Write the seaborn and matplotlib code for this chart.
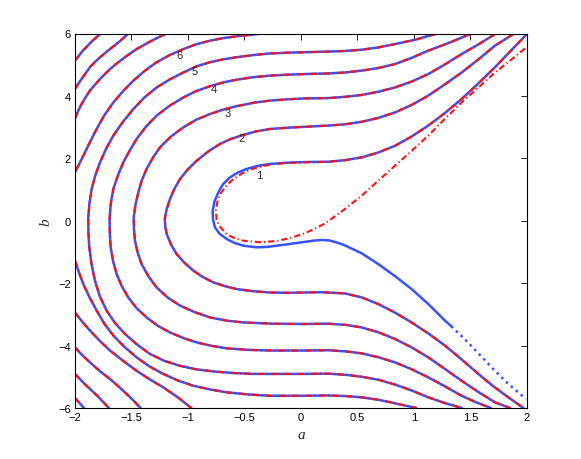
import matplotlib
matplotlib.use("Agg")
import matplotlib.pyplot as plt
import seaborn as sns

sns.set_theme(style="white")
plt.rcParams["font.family"] = ["Liberation Sans", "DejaVu Sans"]

# contour curves, (a, b) pairs
c1_blue = [(1.991, 5.95), (1.85, 5.42), (1.717, 4.92), (1.57, 4.40), (1.422, 3.90),
           (1.27, 3.44), (1.127, 3.05), (0.98, 2.70), (0.832, 2.40), (0.68, 2.18),
           (0.537, 2.03), (0.39, 1.94), (0.242, 1.89), (0.036, 1.88), (-0.12, 1.86),
           (-0.274, 1.82), (-0.38, 1.76), (-0.481, 1.66), (-0.56, 1.54), (-0.628, 1.39),
           (-0.69, 1.17), (-0.731, 0.91), (-0.765, 0.62), (-0.781, 0.32), (-0.779, 0.05),
           (-0.761, -0.21), (-0.72, -0.42), (-0.657, -0.586), (-0.59, -0.71), (-0.51, -0.80),
           (-0.392, -0.853), (-0.30, -0.84), (-0.215, -0.80), (-0.12, -0.755), (-0.03, -0.71),
           (0.05, -0.67), (0.12, -0.635), (0.183, -0.618), (0.25, -0.63), (0.32, -0.70),
           (0.389, -0.79), (0.54, -1.05), (0.684, -1.39), (0.83, -1.77), (0.979, -2.19),
           (1.13, -2.68), (1.274, -3.20), (1.33, -3.38)]
c1_blue_tail = [(1.33, -3.38), (1.45, -3.80), (1.57, -4.25), (1.70, -4.75), (1.835, -5.23),
                (1.991, -5.71)]
c1_red = [(1.982, 5.52), (1.85, 5.13), (1.717, 4.75), (1.57, 4.27), (1.422, 3.79),
          (1.27, 3.25), (1.127, 2.73), (0.98, 2.24), (0.832, 1.76), (0.68, 1.27),
          (0.537, 0.80), (0.38, 0.35), (0.212, -0.09), (0.12, -0.26), (0.036, -0.40),
          (-0.09, -0.55), (-0.215, -0.65), (-0.363, -0.69), (-0.51, -0.64), (-0.60, -0.54),
          (-0.657, -0.43), (-0.71, -0.22), (-0.746, 0.0), (-0.752, 0.32), (-0.74, 0.60),
          (-0.71, 0.88), (-0.66, 1.12), (-0.60, 1.33), (-0.52, 1.52), (-0.43, 1.66),
          (-0.33, 1.76), (-0.2, 1.83), (-0.05, 1.86), (0.036, 1.87), (0.242, 1.89),
          (0.39, 1.94), (0.537, 2.03), (0.68, 2.18), (0.832, 2.40), (0.98, 2.70),
          (1.127, 3.05), (1.27, 3.44), (1.422, 3.90), (1.57, 4.40), (1.717, 4.92),
          (1.85, 5.42), (1.991, 5.95)]

c2 = [(1.879, 5.98), (1.80, 5.80), (1.717, 5.61), (1.57, 5.17), (1.422, 4.75), (1.27, 4.36),
      (1.127, 4.01), (0.98, 3.71), (0.832, 3.47), (0.68, 3.29), (0.537, 3.17), (0.39, 3.09),
      (0.242, 3.05), (0.036, 3.01), (-0.12, 2.98), (-0.274, 2.94), (-0.40, 2.86), (-0.51, 2.75),
      (-0.62, 2.62), (-0.717, 2.46), (-0.82, 2.22), (-0.923, 1.92), (-1.0, 1.65), (-1.07, 1.34),
      (-1.12, 1.02), (-1.159, 0.695), (-1.19, 0.35), (-1.205, 0.05), (-1.20, -0.2),
      (-1.188, -0.426), (-1.15, -0.76), (-1.10, -1.07), (-1.03, -1.35), (-0.952, -1.60),
      (-0.87, -1.80), (-0.776, -1.975), (-0.67, -2.10), (-0.569, -2.19), (-0.42, -2.26),
      (-0.274, -2.30), (-0.12, -2.31), (0.036, -2.30), (0.183, -2.29), (0.389, -2.33),
      (0.54, -2.46), (0.684, -2.67), (0.83, -2.94), (0.979, -3.26), (1.13, -3.62),
      (1.274, -4.00), (1.42, -4.44), (1.57, -4.91), (1.70, -5.30), (1.835, -5.66),
      (1.968, -6.0)]
c3 = [(1.717, 5.98), (1.57, 5.65), (1.422, 5.34), (1.27, 5.00), (1.127, 4.70), (0.98, 4.46),
      (0.832, 4.27), (0.68, 4.13), (0.537, 4.03), (0.39, 3.97), (0.242, 3.93), (0.036, 3.92),
      (-0.12, 3.89), (-0.274, 3.85), (-0.42, 3.78), (-0.569, 3.67), (-0.69, 3.56),
      (-0.805, 3.42), (-0.93, 3.23), (-1.041, 2.99), (-1.15, 2.70), (-1.248, 2.35),
      (-1.31, 2.02), (-1.366, 1.66), (-1.41, 1.28), (-1.439, 0.91), (-1.465, 0.5),
      (-1.48, 0.1), (-1.478, -0.25), (-1.469, -0.64), (-1.445, -1.02), (-1.41, -1.39),
      (-1.35, -1.78), (-1.277, -2.14), (-1.18, -2.46), (-1.07, -2.72), (-0.94, -2.93),
      (-0.805, -3.10), (-0.66, -3.20), (-0.51, -3.26), (-0.25, -3.30), (0.036, -3.31),
      (0.242, -3.30), (0.40, -3.34), (0.537, -3.42), (0.69, -3.58), (0.832, -3.79),
      (0.98, -4.06), (1.127, -4.38), (1.27, -4.74), (1.422, -5.13), (1.57, -5.49),
      (1.717, -5.82), (1.85, -6.0)]
c4 = [(1.496, 5.98), (1.31, 5.70), (1.127, 5.45), (0.98, 5.22), (0.832, 5.02), (0.68, 4.89),
      (0.537, 4.81), (0.39, 4.75), (0.242, 4.72), (0.036, 4.70), (-0.12, 4.68), (-0.274, 4.65),
      (-0.42, 4.60), (-0.569, 4.52), (-0.69, 4.43), (-0.805, 4.31), (-0.93, 4.15),
      (-1.041, 3.95), (-1.16, 3.69), (-1.277, 3.37), (-1.37, 3.02), (-1.454, 2.62),
      (-1.515, 2.25), (-1.572, 1.87), (-1.62, 1.45), (-1.66, 1.02), (-1.683, 0.55),
      (-1.693, 0.1), (-1.692, -0.38), (-1.684, -0.85), (-1.662, -1.30), (-1.631, -1.71),
      (-1.585, -2.10), (-1.528, -2.46), (-1.455, -2.80), (-1.366, -3.10), (-1.27, -3.36),
      (-1.159, -3.58), (-1.04, -3.76), (-0.923, -3.90), (-0.79, -4.01), (-0.657, -4.09),
      (-0.46, -4.14), (-0.274, -4.16), (0.036, -4.16), (0.242, -4.15), (0.40, -4.19),
      (0.537, -4.25), (0.69, -4.38), (0.832, -4.54), (0.98, -4.76), (1.127, -5.02),
      (1.27, -5.30), (1.422, -5.61), (1.55, -5.82), (1.68, -6.0)]
c5 = [(1.186, 5.98), (1.01, 5.80), (0.832, 5.66), (0.68, 5.55), (0.537, 5.48), (0.39, 5.44),
      (0.242, 5.42), (0.036, 5.40), (-0.12, 5.385), (-0.274, 5.36), (-0.42, 5.31),
      (-0.569, 5.24), (-0.69, 5.17), (-0.805, 5.08), (-0.93, 4.94), (-1.041, 4.75),
      (-1.16, 4.53), (-1.277, 4.27), (-1.385, 3.95), (-1.483, 3.58), (-1.575, 3.17),
      (-1.66, 2.73), (-1.725, 2.30), (-1.778, 1.87), (-1.82, 1.45), (-1.852, 1.02),
      (-1.872, 0.55), (-1.882, 0.1), (-1.881, -0.38), (-1.873, -0.85), (-1.853, -1.40),
      (-1.823, -1.92), (-1.78, -2.42), (-1.72, -2.88), (-1.645, -3.28), (-1.557, -3.63),
      (-1.45, -3.97), (-1.336, -4.27), (-1.21, -4.49), (-1.07, -4.65), (-0.93, -4.76),
      (-0.776, -4.83), (-0.60, -4.88), (-0.422, -4.91), (0.036, -4.91), (0.242, -4.90),
      (0.40, -4.94), (0.537, -5.00), (0.69, -5.10), (0.832, -5.25), (0.98, -5.44),
      (1.127, -5.66), (1.27, -5.84), (1.422, -6.0)]
c6 = [(-0.35, 6.0), (-0.46, 5.95), (-0.569, 5.91), (-0.69, 5.85), (-0.805, 5.77),
      (-0.93, 5.65), (-1.041, 5.50), (-1.16, 5.31), (-1.277, 5.08), (-1.38, 4.81),
      (-1.483, 4.49), (-1.575, 4.15), (-1.66, 3.79), (-1.74, 3.38), (-1.808, 2.94),
      (-1.87, 2.50), (-1.926, 2.08), (-1.965, 1.80), (-2.0, 1.55)]
c6_low = [(-2.0, -1.28), (-1.965, -1.65), (-1.926, -2.03), (-1.87, -2.46), (-1.808, -2.88),
          (-1.74, -3.30), (-1.66, -3.68), (-1.56, -4.05), (-1.454, -4.38), (-1.34, -4.67),
          (-1.218, -4.91), (-1.09, -5.12), (-0.952, -5.29), (-0.80, -5.41), (-0.657, -5.50),
          (-0.46, -5.57), (-0.274, -5.61), (0.036, -5.61), (0.242, -5.60), (0.40, -5.62),
          (0.537, -5.66), (0.69, -5.74), (0.832, -5.85), (0.93, -5.93), (1.02, -6.0)]
c7 = [(-2.0, 3.28), (-1.971, 3.52), (-1.941, 3.74), (-1.905, 3.96), (-1.867, 4.17),
      (-1.823, 4.36), (-1.778, 4.54), (-1.735, 4.70), (-1.69, 4.86), (-1.63, 5.04),
      (-1.572, 5.20), (-1.515, 5.35), (-1.454, 5.50), (-1.395, 5.62), (-1.336, 5.74),
      (-1.26, 5.88), (-1.19, 6.0)]
c7_low = [(-2.0, -2.94), (-1.935, -3.24), (-1.867, -3.52), (-1.78, -3.85), (-1.69, -4.16),
          (-1.57, -4.50), (-1.454, -4.81), (-1.34, -5.08), (-1.218, -5.34), (-1.09, -5.66),
          (-0.97, -6.0)]
c8 = [(-2.0, 4.22), (-1.965, 4.42), (-1.93, 4.6), (-1.867, 4.92), (-1.825, 5.08),
      (-1.78, 5.23), (-1.735, 5.37), (-1.69, 5.50), (-1.645, 5.63), (-1.6, 5.76),
      (-1.57, 5.86), (-1.54, 5.96), (-1.53, 6.0)]
c8_low = [(-2.0, -4.06), (-1.935, -4.31), (-1.867, -4.54), (-1.78, -4.82), (-1.69, -5.07),
          (-1.615, -5.31), (-1.543, -5.55), (-1.48, -5.77), (-1.42, -6.0)]
c9 = [(-2.0, 5.13), (-1.965, 5.29), (-1.93, 5.45), (-1.89, 5.60), (-1.85, 5.75),
      (-1.81, 5.88), (-1.77, 6.0)]
c9_low = [(-2.0, -4.91), (-1.95, -5.10), (-1.9, -5.28), (-1.85, -5.45), (-1.8, -5.62),
          (-1.75, -5.81), (-1.70, -6.0)]
c10_low = [(-2.0, -5.68), (-1.96, -5.84), (-1.92, -6.0)]

label_text = ["1", "2", "3", "4", "5", "6"]
label_a = [-0.369, -0.525, -0.651, -0.775, -0.943, -1.078]
label_b = [1.45, 2.65, 3.46, 4.21, 4.79, 5.30]

x_ticks = [-2, -1.5, -1, -0.5, 0, 0.5, 1, 1.5, 2]
y_ticks = [-6, -4, -2, 0, 2, 4, 6]

blue = "#3553ff"
red = "#ff1010"
dashdot = (0, (3.0, 1.4, 0.6, 1.4))

fig = plt.figure(figsize=(5.81, 4.60), dpi=100)
ax = fig.add_axes([0.129, 0.111, 0.778, 0.814])


def draw(pts, color, lw, ls="-"):
    xs = [p[0] for p in pts]
    ys = [p[1] for p in pts]
    sns.lineplot(x=xs, y=ys, sort=False, estimator=None, color=color, lw=lw,
                 linestyle=ls, ax=ax)


others = [c2, c3, c4, c5, c6, c6_low, c7, c7_low, c8, c8_low, c9, c9_low, c10_low]
for c in others:
    draw(c, blue, 1.8)
draw(c1_blue, blue, 1.8)
draw(c1_blue_tail, blue, 1.8, (0, (1, 1.6)))
for c in others:
    draw(c, red, 1.5, dashdot)
draw(c1_red, red, 1.5, dashdot)

for t, xa, yb in zip(label_text, label_a, label_b):
    ax.text(xa, yb, t, fontsize=8, ha="center", va="center")

ax.set_xlim(-2, 2)
ax.set_ylim(-6, 6)
ax.set_xticks(x_ticks)
ax.set_xticklabels(["\u22122", "\u22121.5", "\u22121", "\u22120.5", "0", "0.5", "1", "1.5", "2"])
ax.set_yticks(y_ticks)
ax.set_yticklabels(["\u22126", "\u22124", "\u22122", "0", "2", "4", "6"])
ax.tick_params(direction="in", length=4, width=0.6, top=True, right=True,
               labelsize=8, colors="black", pad=3)
for s in ax.spines.values():
    s.set_color("black")
    s.set_linewidth(0.8)
ax.set_xlabel("a", fontsize=11, style="italic", family="Liberation Serif", labelpad=4)
ax.set_ylabel("b", fontsize=11, style="italic", family="Liberation Serif", labelpad=4)

fig.savefig("out.png", dpi=100)
